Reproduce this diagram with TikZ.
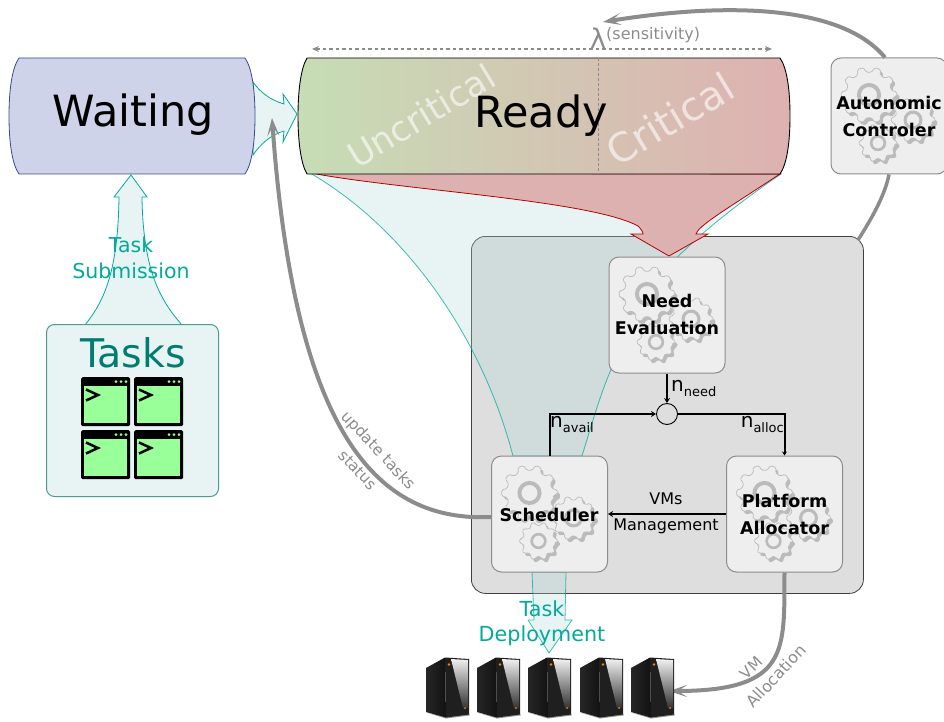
\documentclass[tikz,border=0pt]{standalone}
\usepackage{fontspec}
\setmainfont{DejaVu Sans}
\usetikzlibrary{arrows.meta,calc}
\definecolor{teal1}{HTML}{00AB9B}
\definecolor{tealdark}{HTML}{007D70}
\definecolor{tealpale}{HTML}{E8F4F4}
\definecolor{flow}{RGB}{178,218,218}
\definecolor{gry}{HTML}{8C8C8C}
\definecolor{gearline}{HTML}{BBBBBB}
\definecolor{boxfill}{HTML}{EEEEEE}
\definecolor{redfill}{HTML}{DEB1B1}
\definecolor{redline}{HTML}{B30000}
\definecolor{win}{HTML}{99FF99}
\definecolor{waitfill}{RGB}{206,211,233}
\definecolor{waitline}{RGB}{58,74,140}
\definecolor{greenfill}{RGB}{198,221,181}
\definecolor{tasksline}{RGB}{77,154,148}
\newcommand\fs[1]{\fontsize{#1}{#1}\selectfont}
\newcommand\gearpath[5]{% cx cy r teeth style
  \path[#5,rounded corners=1.5pt]
    ({#1+#3},{#2})
    \foreach \k [evaluate=\k as \a using {\k*360/#4}] in {1,...,#4}{
      -- ({#1+0.82*#3*cos(\a-0.30*360/#4)},{#2+0.82*#3*sin(\a-0.30*360/#4)})
      -- ({#1+#3*cos(\a-0.18*360/#4)},{#2+#3*sin(\a-0.18*360/#4)})
      -- ({#1+#3*cos(\a+0.18*360/#4)},{#2+#3*sin(\a+0.18*360/#4)})
      -- ({#1+0.82*#3*cos(\a+0.30*360/#4)},{#2+0.82*#3*sin(\a+0.30*360/#4)})
    } -- cycle;}
\newcommand\onegear[4]{%
  \gearpath{#1+2.5}{#2+3}{#3}{#4}{fill=gearline}
  \gearpath{#1}{#2}{#3}{#4}{fill=boxfill,draw=gearline,line width=.7pt}
  \pgfmathsetmacro\ringw{0.14*#3}\pgfmathsetmacro\ringr{0.36*#3}
  \path[draw=gearline,line width=\ringw pt] (#1,#2) circle (\ringr pt);}
\newcommand\gears[2]{% top-left of the box
  \onegear{#1+38}{#2+37}{28}{10}
  \onegear{#1+82}{#2+62}{22}{10}
  \onegear{#1+47}{#2+85}{19}{10}}
\newcommand\taskwin[3]{% name x y
  \node[fill=black,rounded corners=1.5pt,inner sep=0,minimum width=49pt,minimum height=49pt,anchor=north west] (#1) at (#2,#3) {};
  \fill[win] (#2+3,#3+9) rectangle (#2+46,#3+46);
  \foreach \d in {35,40,45} \fill[win] (#2+\d,#3+4.5) circle (1.5pt);
  \draw[line width=2.5pt] (#2+5,#3+12.5) -- (#2+17,#3+18) -- (#2+5,#3+23.5);}
\newcommand\server[2]{% name x
  \node[inner sep=0,minimum width=44pt,minimum height=61pt,anchor=north west] (#1) at (#2,657) {};
  \fill[black!40] (#2,712.5) -- (#2+20,718.5) -- (#2+43.5,715.5) -- (#2+43.5,714) -- (#2+20,717) -- cycle;
  \shade[left color=black!85,right color=black!93] (#2,668) -- (#2+19,657.5) -- (#2+20,717.5) -- (#2,712) -- cycle;
  \fill[black!88] (#2+19,657.5) -- (#2+43,659) -- (#2+43,714.5) -- (#2+20,717.5) -- cycle;
  \shade[top color=black!6,bottom color=black!80] (#2+25,659) -- (#2+42,660) -- (#2+42,708) -- (#2+37,708) -- cycle;
  \fill[orange] (#2+23,664.5) circle (1.4pt);
  \fill[orange] (#2+39,708) circle (1pt);}
\tikzset{
  x=1pt,y=-1pt,
  compbox/.style={rectangle,rounded corners=10pt,draw=gry,line width=1pt,fill=boxfill,minimum width=116pt,minimum height=116pt,inner sep=0},
  boldlabel/.style={font=\fs{17.5}\bfseries,align=center},
  tealflow/.style={fill=flow,fill opacity=.3,draw=teal1,draw opacity=.75,line width=.8pt},
  tealarrow/.style={fill=tealpale,draw=teal1,line width=.8pt},
  redarrow/.style={fill=redfill,draw=redline,line width=.8pt},
  greyconn/.style={draw=gry,line width=4pt},
  greyhead/.style={-{Stealth[length=18pt,width=12pt,inset=9pt]}},
  blackconn/.style={draw=black,line width=2pt},
  teallabel/.style={text=teal1,align=center},
  greylabel/.style={text=gry,font=\fs{15.5}},
  sublabel/.style={inner sep=0,font=\fs{20}}
}
\newcommand\subscr[1]{\raisebox{-4.5pt}{\fs{13}#1}}
\begin{document}
\begin{tikzpicture}
\useasboundingbox (0,0) rectangle (944,722);

% Grey container
\node[rectangle,rounded corners=14pt,draw=black!75,line width=.8pt,fill=black!13,minimum width=392pt,minimum height=357pt,inner sep=0,anchor=north west] (sys) at (471,236) {};

% Teal flow arrows
\draw[tealflow] (310,173) .. controls (400,225) and (480,330) .. (513,456) -- (582,456) .. controls (590,430) and (600,395) .. (610,372) .. controls (625,330) and (660,270) .. (685,250) .. controls (710,225) and (750,195) .. (781,174) -- cycle;
\draw[tealarrow] (253,82) .. controls (260,92) and (270,100) .. (284,104) -- (283,94) -- (297,114) -- (283,142) -- (284,131) .. controls (270,135) and (260,145) .. (253,155) -- cycle;
\draw[tealarrow] (85,325) .. controls (105,300) and (118,270) .. (119,197) -- (114,197) -- (131,175) -- (147,197) -- (142,197) .. controls (143,270) and (160,300) .. (182,325) -- cycle;
\draw[tealflow] (532,572) -- (534,620) -- (528,620) -- (549,653) -- (572,620) -- (565,620) -- (566,572) -- cycle;

% Red arrow
\draw[redarrow] (311,173) .. controls (400,190) and (590,200) .. (638,226) .. controls (641,229) and (643,232) .. (643,234) -- (631,234) -- (669,256) -- (708,234) -- (696,234) .. controls (698,226) and (725,210) .. (780,174) -- cycle;

% Waiting
\draw[fill=waitfill,draw=waitline,line width=.8pt]
  (19,58) -- (245,58) .. controls (252,68) and (255,90) .. (255,116) .. controls (255,142) and (252,164) .. (245,174) -- (19,174) .. controls (12,164) and (9,142) .. (9,116) .. controls (9,90) and (12,68) .. (19,58) -- cycle;
\node[font=\fs{43}] (waiting) at (133,115) {Waiting};

% Ready
\path[left color=greenfill,right color=redfill]
  (307,58) -- (780,58) .. controls (787,68) and (790,90) .. (790,116) .. controls (790,142) and (787,164) .. (780,174) -- (307,174) .. controls (301,164) and (298,142) .. (298,116) .. controls (298,90) and (301,68) .. (307,58) -- cycle;
\draw[black,line width=.9pt]
  (307,58) -- (780,58) .. controls (787,68) and (790,90) .. (790,116) .. controls (790,142) and (787,164) .. (780,174) -- (307,174) .. controls (301,164) and (298,142) .. (298,116) .. controls (298,90) and (301,68) .. (307,58) -- cycle;
\coordinate (divtop) at (598,58);
\coordinate (divbot) at (598,174);
\draw[gry,dash pattern=on 3pt off 2pt,line width=.8pt] (divtop) -- (divbot);
\node[font=\fs{35},text=white,text opacity=.6,rotate=31] (uncrit) at (421,116) {Uncritical};
\node[font=\fs{40},text=white,text opacity=.6,rotate=31] (crit) at (670,119) {Critical};
\node[font=\fs{43}] (ready) at (541,116) {Ready};

% sensitivity
\coordinate (sL) at (312,49);
\coordinate (sR) at (772,49);
\draw[gry,line width=1.5pt,dash pattern=on 3.5pt off 3pt,{Stealth[length=7pt,width=6pt]}-{Stealth[length=7pt,width=6pt]}] (sL) -- (sR);
\node[text=gry,font=\fs{27},inner sep=0] (lam) at (598,38) {λ};
\node[greylabel,font=\fs{16},inner sep=0,anchor=west] (sens) at (606,35) {(sensitivity)};

% Component boxes
\node[compbox] (need) at (667,315) {};
\node[compbox] (sched) at (549.5,514) {};
\node[compbox] (plat) at (784.5,514) {};
\node[compbox] (auto) at (889,116) {};
\gears{609}{257}
\gears{491.5}{456}
\gears{726.5}{456}
\gears{831}{58}
\node[boldlabel] at (667,314.5) {Need\\[9.5pt]Evaluation};
\node[boldlabel] at (549,514.5) {Scheduler};
\node[boldlabel] at (784.5,514.5) {Platform\\[9.5pt]Allocator};
\node[boldlabel] at (889,116.5) {Autonomic\\[9.5pt]Controler};

% Comparator and black connectors
\node[circle,draw=black,line width=.9pt,minimum size=21pt,inner sep=0] (cmp) at (667,414) {};
\draw[blackconn,-{Stealth[length=5pt,width=6pt]}] (need.south) -- (cmp.north);
\draw[blackconn,-{Stealth[length=5pt,width=6pt]}] (sched.north) |- (cmp.west);
\draw[blackconn,-{Stealth[length=4pt,width=5pt]}] (cmp.east) -| (plat.north);
\draw[blackconn,-{Stealth[length=5pt,width=6pt]}] (plat.west) -- (sched.east);
\node[sublabel,anchor=west] at (671,388.5) {n\subscr{need}};
\node[sublabel,anchor=west] at (550,424.5) {n\subscr{avail}};
\node[sublabel,anchor=east] at (784,424.5) {n\subscr{alloc}};
\node[font=\fs{16},inner sep=0] at (666,499) {VMs};
\node[font=\fs{16},inner sep=0] at (666,526.5) {Management};

% Grey thick connectors
\coordinate (readyin) at (272,118);
\draw[greyconn,greyhead] (sched.west) ++(0,3) .. controls (380,522) and (295,440) .. (readyin);
\coordinate (lamin) at (603,22);
\draw[greyconn,greyhead] (auto.north) ++(-4,0) .. controls (840,3) and (720,3) .. (lamin);
\draw[greyconn,line width=3.5pt] (auto.south) .. controls (885,195) and (872,218) .. (858,240);
\coordinate (srv5in) at (669,691);
\draw[greyconn,greyhead] (plat.south) .. controls (784,650) and (790,691) .. (srv5in);
\node[greylabel,rotate=-47] at (378,451) {update tasks};
\node[greylabel,rotate=-47] at (358,470) {status};
\node[greylabel,rotate=45] at (751,668) {VM};
\node[greylabel,rotate=47,font=\fs{16}] at (776,676) {Allocation};

% Tasks
\node[rectangle,rounded corners=8pt,draw=tasksline,line width=1pt,fill=tealpale,minimum width=172pt,minimum height=172pt,inner sep=0,anchor=north west] (tasks) at (46,324) {};
\node[font=\fs{39.5},text=tealdark,inner sep=0] at (133,352.5) {Tasks};
\taskwin{w1}{81}{377}
\taskwin{w2}{134}{377}
\taskwin{w3}{81}{430}
\taskwin{w4}{134}{430}

\node[teallabel,font=\fs{20.5},inner sep=0] at (131,245) {Task};
\node[teallabel,font=\fs{20.5},inner sep=0] at (131,271) {Submission};
\node[teallabel,font=\fs{20.7},inner sep=0] at (542,609) {Task};
\node[teallabel,font=\fs{20.7},inner sep=0] at (542,636) {Deployment};

% Servers
\server{srv1}{426}
\server{srv2}{477}
\server{srv3}{528}
\server{srv4}{580}
\server{srv5}{631}
\end{tikzpicture}
\end{document}
